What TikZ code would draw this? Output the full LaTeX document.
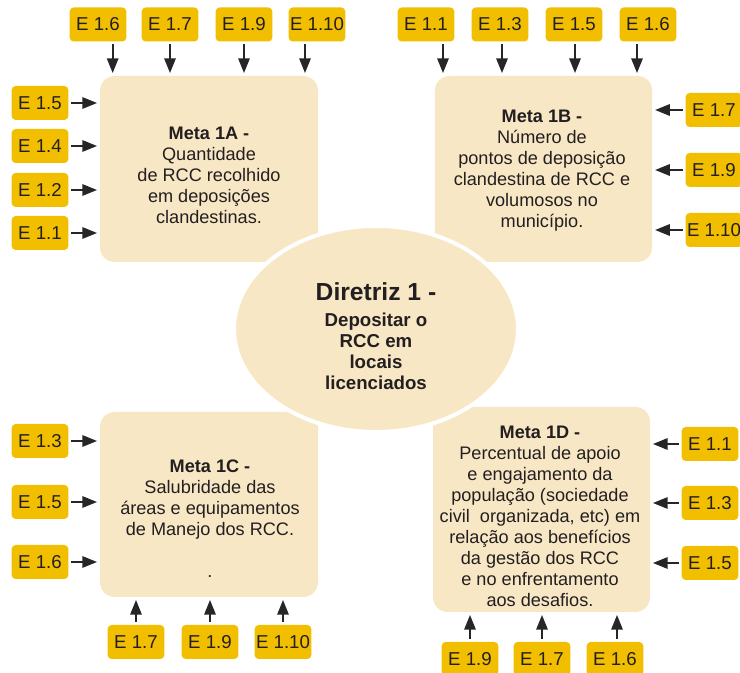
\documentclass[tikz,border=0pt]{standalone}
\usepackage{fontspec}
\setmainfont{Liberation Sans}
\usetikzlibrary{shapes.geometric,arrows.meta}
\definecolor{metabeige}{RGB}{247,231,196}
\definecolor{tagyellow}{RGB}{242,190,0}
\definecolor{txtgray}{RGB}{35,31,32}

\begin{document}
\begin{tikzpicture}[x=0.75pt, y=-0.75pt,
    metabox/.style={rectangle, rounded corners=11pt, fill=metabeige, inner sep=0pt},
    metatext/.style={align=center, text=txtgray, font=\fontsize{13.6}{15.75}\selectfont},
    tag/.style={rectangle, rounded corners=3pt, fill=tagyellow, text=txtgray, minimum width=42.5pt, minimum height=25.5pt, inner sep=1pt, font=\fontsize{14}{15}\selectfont},
    arr/.style={-{Triangle[length=11pt,width=8.5pt]}, line width=1.4pt, black!85, shorten <=2pt, shorten >=2pt}]
    \useasboundingbox (0,0) rectangle (740,673);
    % metas
    \node[metabox, minimum width=163.5pt, minimum height=139.5pt] (mA) at (209,169) {};
    \node[metabox, minimum width=163pt, minimum height=139.5pt] (mB) at (543.5,169) {};
    \node[metabox, minimum width=163.5pt, minimum height=138.75pt] (mC) at (209,504.5) {};
    \node[metabox, minimum width=162.75pt, minimum height=153.75pt] (mD) at (541.5,509.5) {};
    % diretriz
    \node[ellipse, fill=metabeige, draw=white, line width=3pt, minimum width=213pt, minimum height=154.5pt] (dir) at (376,329) {};
    % texts
    \node[metatext] (xA) at (209,175) {\textbf{Meta 1A -}\\Quantidade\\de RCC recolhido\\em deposições\\clandestinas.};
    \node[metatext] (xB) at (542,171) {\textbf{Meta 1B -}\\Número de\\pontos de deposição\\clandestina de RCC e\\volumosos no\\município.};
    \node[metatext] (xC) at (210,519) {\textbf{Meta 1C -}\\Salubridade das\\áreas e equipamentos\\de Manejo dos RCC.\\[15.75pt].};
    \node[metatext] (xD) at (540,516.5) {\textbf{Meta 1D -}\\Percentual de apoio\\e engajamento da\\população (sociedade\\civil~ organizada, etc) em\\relação aos benefícios\\da gestão dos RCC\\e no enfrentamento\\aos desafios.};
    \node[align=center, text=txtgray, font=\bfseries\fontsize{14}{15.75}\selectfont] (xdir) at (376,336)
        {{\fontsize{18.5}{21}\selectfont Diretriz 1 -}\\[4pt]Depositar o\\RCC em\\locais\\licenciados};
    % Meta 1A
    \foreach \lab/\x/\d [count=\i] in {1.6/98/11, 1.7/170/0, 1.9/244/0, 1.10/317/-9}{
        \node[tag] (tAt\i) at (\x,24.5) {E \lab};
        \draw[arr] ([xshift=\d pt]tAt\i.south) -- ([xshift=\d pt]tAt\i.south |- mA.north);
    }
    \foreach \lab/\y [count=\i] in {1.5/103, 1.4/146, 1.2/190, 1.1/233}{
        \node[tag] (tAl\i) at (40,\y) {E \lab};
        \draw[arr] (tAl\i.east) -- (tAl\i.east -| mA.west);
    }
    % Meta 1B
    \foreach \lab/\x/\d [count=\i] in {1.1/426/12.75, 1.3/500/1.5, 1.5/574/0.75, 1.6/648/-8.25}{
        \node[tag] (tBt\i) at (\x,24.5) {E \lab};
        \draw[arr] ([xshift=\d pt]tBt\i.south) -- ([xshift=\d pt]tBt\i.south |- mB.north);
    }
    \foreach \lab/\y [count=\i] in {1.7/110, 1.9/170, 1.10/230}{
        \node[tag] (tBr\i) at (714,\y) {E \lab};
        \draw[arr] (tBr\i.west) -- (tBr\i.west -| mB.east);
    }
    % Meta 1C
    \foreach \lab/\y [count=\i] in {1.3/441, 1.5/502, 1.6/562}{
        \node[tag] (tCl\i) at (40,\y) {E \lab};
        \draw[arr] (tCl\i.east) -- (tCl\i.east -| mC.west);
    }
    \foreach \lab/\x [count=\i] in {1.7/136, 1.9/210, 1.10/283}{
        \node[tag] (tCb\i) at (\x,642) {E \lab};
        \draw[arr] (tCb\i.north) -- (tCb\i.north |- mC.south);
    }
    % Meta 1D
    \foreach \lab/\y [count=\i] in {1.1/444, 1.3/503, 1.5/563}{
        \node[tag] (tDr\i) at (710,\y) {E \lab};
        \draw[arr] (tDr\i.west) -- (tDr\i.west -| mD.east);
    }
    \foreach \lab/\x/\d [count=\i] in {1.9/470/0, 1.7/542/0, 1.6/615/1.5}{
        \node[tag] (tDb\i) at (\x,659) {E \lab};
        \draw[arr] ([xshift=\d pt]tDb\i.north) -- ([xshift=\d pt]tDb\i.north |- mD.south);
    }
\end{tikzpicture}
\end{document}
